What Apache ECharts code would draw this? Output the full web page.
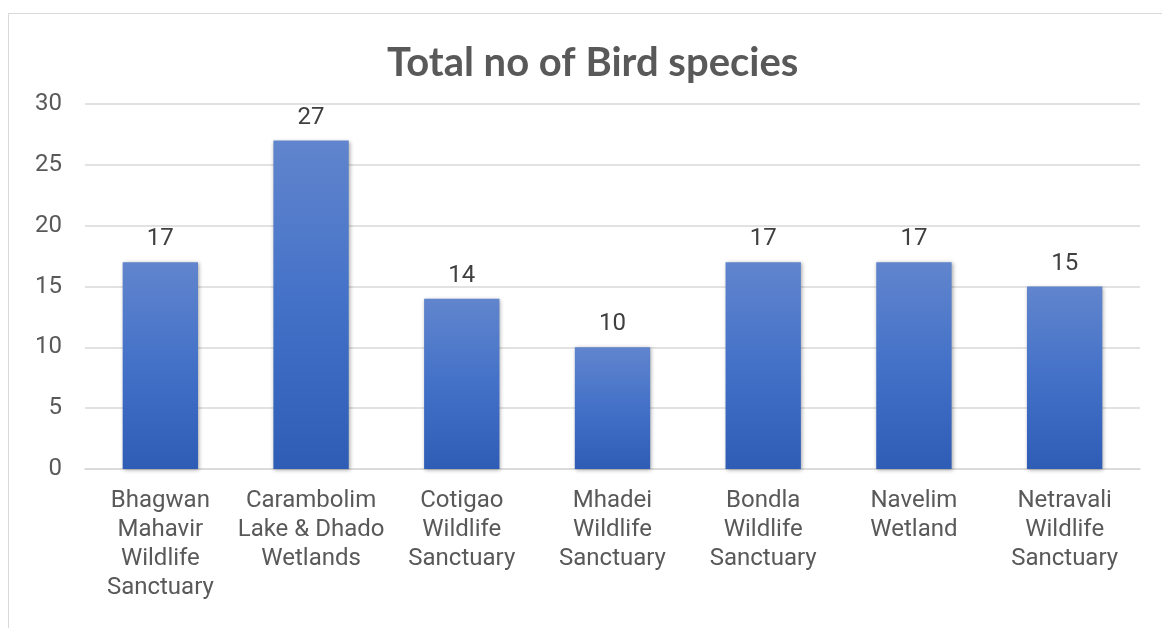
<!DOCTYPE html>
<html>
<head>
<meta charset="utf-8">
<script src="https://cdn.jsdelivr.net/npm/echarts@6/dist/echarts.min.js"></script>
<style>
  html, body { margin: 0; padding: 0; background: #ffffff; }
  #frame { position: absolute; left: 8px; top: 13px; width: 1200px; height: 700px; border: 1px solid #d9d9d9; box-sizing: border-box; }
  #chart { position: absolute; left: 0; top: 0; width: 1162px; height: 628px; }
</style>
</head>
<body>
<div id="frame"></div>
<div id="chart"></div>
<script>
// Bird species counts per protected area
const sites = [
  'Bhagwan\nMahavir\nWildlife\nSanctuary',
  'Carambolim\nLake & Dhado\nWetlands',
  'Cotigao\nWildlife\nSanctuary',
  'Mhadei\nWildlife\nSanctuary',
  'Bondla\nWildlife\nSanctuary',
  'Navelim\nWetland',
  'Netravali\nWildlife\nSanctuary'
];
const speciesCount = [17, 27, 14, 10, 17, 17, 15];
const yTicks = { min: 0, max: 30, interval: 5 };

const chart = echarts.init(document.getElementById('chart'), null, { renderer: 'canvas' });

const barFill = new echarts.graphic.LinearGradient(0, 0, 0, 1, [
  { offset: 0, color: '#6185cd' },
  { offset: 0.5, color: '#4371c8' },
  { offset: 1, color: '#2f5db6' }
]);

chart.setOption({
  animation: false,
  backgroundColor: 'transparent',
  title: {
    text: 'Total no of Bird species',
    left: 382,
    top: 38,
    textStyle: { fontFamily: 'Lato', fontWeight: 'bold', fontSize: 40, color: '#595959' }
  },
  grid: { left: 85, right: 22, top: 104, bottom: 159, containLabel: false },
  xAxis: {
    type: 'category',
    data: sites,
    axisLine: { show: true, lineStyle: { color: '#d9d9d9', width: 1.5 } },
    axisTick: { show: false },
    axisLabel: {
      interval: 0,
      margin: 17,
      fontFamily: 'Roboto',
      fontSize: 24,
      lineHeight: 29,
      color: '#595959',
      verticalAlign: 'top'
    }
  },
  yAxis: {
    type: 'value',
    min: yTicks.min,
    max: yTicks.max,
    interval: yTicks.interval,
    axisLine: { show: false },
    axisTick: { show: false },
    splitLine: { lineStyle: { color: '#d9d9d9', width: 1.5 } },
    axisLabel: { margin: 23, fontFamily: 'Roboto', fontSize: 24, color: '#595959' }
  },
  series: [{
    type: 'bar',
    data: speciesCount,
    barWidth: '50%',
    itemStyle: {
      color: barFill,
      shadowBlur: 4,
      shadowColor: 'rgba(0,0,0,0.35)',
      shadowOffsetX: 1,
      shadowOffsetY: 1
    },
    label: {
      show: true,
      position: 'top',
      distance: 11,
      fontFamily: 'Roboto',
      fontSize: 24,
      color: '#404040'
    }
  }]
});
</script>
</body>
</html>
